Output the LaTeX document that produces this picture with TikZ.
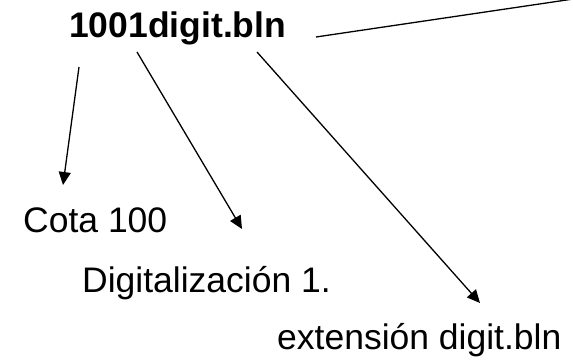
\documentclass[tikz,border=0pt]{standalone}
\usepackage{fontspec}
\setmainfont{Liberation Sans}
\usetikzlibrary{arrows.meta,calc}
\begin{document}
\begin{tikzpicture}[x=1pt,y=-1pt,
  lbl/.style={inner sep=0pt,anchor=base west,font=\fontsize{35.5}{40}\selectfont},
  arr/.style={line width=1.3pt,-{Triangle[length=13pt,width=12pt]}},
  ln/.style={line width=1.3pt}]
\useasboundingbox (0,0) rectangle (573,361);
\node[lbl,font=\fontsize{35.5}{40}\selectfont\bfseries] (title) at (69,38) {1001digit.bln};
\node[lbl] (cota) at (23,232) {Cota 100};
\node[lbl] (dig) at (82,292) {Digitalización 1.};
\node[lbl] (ext) at (277,349) {extensión digit.bln};
\coordinate (out) at (580,-2);
\draw[arr] ($(title.base west)+(10,29)$) -- ($(cota.base west)+(40,-47)$);
\draw[arr] ($(title.base west)+(68,14)$) -- ($(dig.base west)+(160,-63)$);
\draw[arr] ($(title.base west)+(188,14)$) -- ($(ext.base west)+(203,-46)$);
\draw[ln] ($(title.base west)+(247,-1)$) -- (out);
\end{tikzpicture}
\end{document}
